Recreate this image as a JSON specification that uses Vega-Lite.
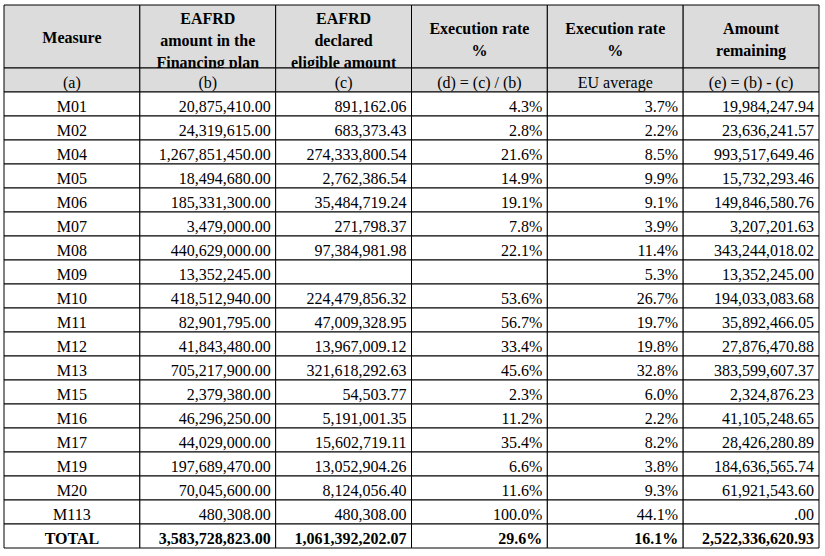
{
  "$schema": "https://vega.github.io/schema/vega-lite/v6.json",
  "padding": {"left": 3, "top": 4, "right": 0, "bottom": 0},
  "background": "white",
  "bounds": "flush",
  "spacing": 0,
  "config": {
    "view": {"stroke": null},
    "concat": {"spacing": 0},
    "font": "Liberation Serif",
    "text": {"font": "Liberation Serif", "color": "#000000"}
  },
  "datasets": {
    "header": [
      {"col": "measure", "title": "Measure", "lines": 1, "sub": "(a)"},
      {"col": "b", "title": "EAFRD|amount in the|Financing plan", "lines": 3, "sub": "(b)"},
      {"col": "c", "title": "EAFRD|declared|eligible amount", "lines": 3, "sub": "(c)"},
      {"col": "d", "title": "Execution rate|%", "lines": 2, "sub": "(d) = (c) / (b)"},
      {"col": "eu", "title": "Execution rate|%", "lines": 2, "sub": "EU average"},
      {"col": "e", "title": "Amount|remaining", "lines": 2, "sub": "(e) = (b) - (c)"}
    ],
    "rows": [
      {"measure": "M01", "b": "20,875,410.00", "c": "891,162.06", "d": "4.3%", "eu": "3.7%", "e": "19,984,247.94"},
      {"measure": "M02", "b": "24,319,615.00", "c": "683,373.43", "d": "2.8%", "eu": "2.2%", "e": "23,636,241.57"},
      {"measure": "M04", "b": "1,267,851,450.00", "c": "274,333,800.54", "d": "21.6%", "eu": "8.5%", "e": "993,517,649.46"},
      {"measure": "M05", "b": "18,494,680.00", "c": "2,762,386.54", "d": "14.9%", "eu": "9.9%", "e": "15,732,293.46"},
      {"measure": "M06", "b": "185,331,300.00", "c": "35,484,719.24", "d": "19.1%", "eu": "9.1%", "e": "149,846,580.76"},
      {"measure": "M07", "b": "3,479,000.00", "c": "271,798.37", "d": "7.8%", "eu": "3.9%", "e": "3,207,201.63"},
      {"measure": "M08", "b": "440,629,000.00", "c": "97,384,981.98", "d": "22.1%", "eu": "11.4%", "e": "343,244,018.02"},
      {"measure": "M09", "b": "13,352,245.00", "c": "", "d": "", "eu": "5.3%", "e": "13,352,245.00"},
      {"measure": "M10", "b": "418,512,940.00", "c": "224,479,856.32", "d": "53.6%", "eu": "26.7%", "e": "194,033,083.68"},
      {"measure": "M11", "b": "82,901,795.00", "c": "47,009,328.95", "d": "56.7%", "eu": "19.7%", "e": "35,892,466.05"},
      {"measure": "M12", "b": "41,843,480.00", "c": "13,967,009.12", "d": "33.4%", "eu": "19.8%", "e": "27,876,470.88"},
      {"measure": "M13", "b": "705,217,900.00", "c": "321,618,292.63", "d": "45.6%", "eu": "32.8%", "e": "383,599,607.37"},
      {"measure": "M15", "b": "2,379,380.00", "c": "54,503.77", "d": "2.3%", "eu": "6.0%", "e": "2,324,876.23"},
      {"measure": "M16", "b": "46,296,250.00", "c": "5,191,001.35", "d": "11.2%", "eu": "2.2%", "e": "41,105,248.65"},
      {"measure": "M17", "b": "44,029,000.00", "c": "15,602,719.11", "d": "35.4%", "eu": "8.2%", "e": "28,426,280.89"},
      {"measure": "M19", "b": "197,689,470.00", "c": "13,052,904.26", "d": "6.6%", "eu": "3.8%", "e": "184,636,565.74"},
      {"measure": "M20", "b": "70,045,600.00", "c": "8,124,056.40", "d": "11.6%", "eu": "9.3%", "e": "61,921,543.60"},
      {"measure": "M113", "b": "480,308.00", "c": "480,308.00", "d": "100.0%", "eu": "44.1%", "e": ".00"},
      {"measure": "TOTAL", "b": "3,583,728,823.00", "c": "1,061,392,202.07", "d": "29.6%", "eu": "16.1%", "e": "2,522,336,620.93"}
    ]
  },
  "vconcat": [
    {
      "width": 815,
      "height": 63,
      "data": {"name": "header"},
      "encoding": {
        "x": {"field": "col", "type": "nominal", "sort": null, "axis": null,
              "scale": {"domain": ["measure", "b", "c", "d", "eu", "e"], "paddingInner": 0, "paddingOuter": 0}},
        "text": {"field": "title", "type": "nominal"}
      },
      "layer": [
        {
          "mark": {"type": "rect", "fill": "#dcdcdc", "stroke": "#000000", "strokeWidth": 1}
        },
        {
          "transform": [{"filter": "datum.lines === 1"}],
          "mark": {"type": "text", "fontWeight": "bold", "fontSize": 16, "lineHeight": 21.75, "lineBreak": "|", "baseline": "middle", "align": "center", "dy": 1.5}
        },
        {
          "transform": [{"filter": "datum.lines === 2"}],
          "mark": {"type": "text", "fontWeight": "bold", "fontSize": 16, "lineHeight": 21.75, "lineBreak": "|", "baseline": "middle", "align": "center", "dy": -7.5}
        },
        {
          "transform": [{"filter": "datum.lines === 3"}],
          "mark": {"type": "text", "fontWeight": "bold", "fontSize": 16, "lineHeight": 21.75, "lineBreak": "|", "baseline": "middle", "align": "center", "dy": -17.5}
        }
      ]
    },
    {
      "width": 815,
      "height": 24,
      "data": {"name": "header"},
      "encoding": {
        "x": {"field": "col", "type": "nominal", "sort": null, "axis": null,
              "scale": {"domain": ["measure", "b", "c", "d", "eu", "e"], "paddingInner": 0, "paddingOuter": 0}}
      },
      "layer": [
        {
          "mark": {"type": "rect", "fill": "#dcdcdc", "stroke": "#000000", "strokeWidth": 1}
        },
        {
          "mark": {"type": "text", "fontSize": 16, "baseline": "middle", "align": "center", "dy": 3},
          "encoding": {
            "text": {"field": "sub", "type": "nominal"}
          }
        }
      ]
    },
    {
      "width": 815,
      "height": 456,
      "data": {"name": "rows"},
      "transform": [{"fold": ["measure", "b", "c", "d", "eu", "e"], "as": ["col", "val"]}],
      "encoding": {
        "x": {"field": "col", "type": "nominal", "sort": null, "axis": null,
              "scale": {"domain": ["measure", "b", "c", "d", "eu", "e"], "paddingInner": 0, "paddingOuter": 0}},
        "y": {"field": "measure", "type": "nominal", "sort": null, "axis": null,
              "scale": {"paddingInner": 0, "paddingOuter": 0}},
        "text": {"field": "val", "type": "nominal"}
      },
      "layer": [
        {
          "mark": {"type": "rect", "fill": "#ffffff", "stroke": "#000000", "strokeWidth": 1}
        },
        {
          "transform": [{"filter": "datum.col === 'measure' && datum.measure !== 'TOTAL'"}],
          "mark": {"type": "text", "fontSize": 16, "baseline": "middle", "align": "center", "dy": 3}
        },
        {
          "transform": [{"filter": "datum.col === 'measure' && datum.measure === 'TOTAL'"}],
          "mark": {"type": "text", "fontSize": 16, "fontWeight": "bold", "baseline": "middle", "align": "center", "dy": 3}
        },
        {
          "transform": [{"filter": "datum.col !== 'measure' && datum.measure !== 'TOTAL'"}],
          "mark": {"type": "text", "fontSize": 16, "baseline": "middle", "align": "right", "dx": -5, "dy": 3},
          "encoding": {
            "x": {"field": "col", "type": "nominal", "sort": null, "axis": null, "bandPosition": 1,
                  "scale": {"domain": ["measure", "b", "c", "d", "eu", "e"], "paddingInner": 0, "paddingOuter": 0}}
          }
        },
        {
          "transform": [{"filter": "datum.col !== 'measure' && datum.measure === 'TOTAL'"}],
          "mark": {"type": "text", "fontSize": 16, "fontWeight": "bold", "baseline": "middle", "align": "right", "dx": -5, "dy": 3},
          "encoding": {
            "x": {"field": "col", "type": "nominal", "sort": null, "axis": null, "bandPosition": 1,
                  "scale": {"domain": ["measure", "b", "c", "d", "eu", "e"], "paddingInner": 0, "paddingOuter": 0}}
          }
        }
      ]
    }
  ]
}
